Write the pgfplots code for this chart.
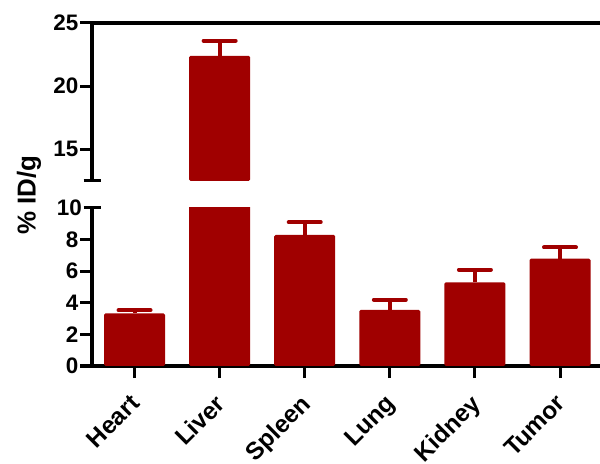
\documentclass[border=0pt]{standalone}
\usepackage{pgfplots}
\pgfplotsset{compat=1.18}
\usepackage{pgfplotstable}
\usepackage{fontspec}
\setmainfont{Liberation Sans}
\definecolor{barred}{HTML}{A00000}
\pgfplotstableread{
x y e
0 3.33 0.2
1 22.4 1.2
2 8.3 0.8
3 3.55 0.65
4 5.3 0.8
5 6.8 0.7
}\organdata
\pgfplotsset{
 common/.style={
  scale only axis, width=508bp, height=158bp,
  anchor=south west,
  xmin=-0.5, xmax=5.47,
  axis y line*=left,
  axis line style={line width=3.2bp, -},
  tick style={black, line width=3bp},
  major tick length=12bp,
  tick align=outside,
  ybar, bar width=61bp,
  tick label style={font=\fontsize{22.5}{24}\selectfont\bfseries},
  /pgf/number format/assume math mode=true,
  yticklabel style={inner sep=1.5bp},
  extra y tick style={tick align=center, major tick length=17bp},
 },
 barplot/.style={fill=barred, draw=none, rounded corners=1.5bp,
  error bars/.cd, y dir=plus, y explicit,
  error mark=|,
  error bar style={line width=4bp, barred, sharp corners},
  error mark options={line width=4bp, barred, mark size=16bp, line cap=round}},
}
\begin{document}
\begin{tikzpicture}
\useasboundingbox (0,0) rectangle (600bp,464bp);
\begin{axis}[common, at={(92bp,98bp)},
  axis x line*=bottom,
  ymin=0, ymax=10, ytick={0,2,4,6,8}, extra y ticks={10},
  xtick={0,...,5},
  xticklabels={Heart,Liver,Spleen,Lung,Kidney,Tumor},
  xticklabel style={rotate=45, anchor=north east, inner sep=0bp,
    font=\fontsize{24.5}{26}\selectfont\bfseries, xshift=-14.4bp, yshift=-6.7bp},
]
\addplot[restrict y to domain=-1:30, barplot] table[x=x, y=y, y error=e] {\organdata};
\end{axis}
\begin{axis}[common, at={(92bp,283bp)},
  axis x line*=top, xtick=\empty,
  ymin=12.5, ymax=25, ytick={15,20,25}, extra y ticks={12.5}, extra y tick labels={},
]
\addplot[restrict y to domain=12.5:30, barplot] table[x=x, y=y, y error=e] {\organdata};
\end{axis}
\node[rotate=90, font=\fontsize{26}{28}\selectfont\bfseries] at (29bp,269bp) {\% ID/g};
\end{tikzpicture}
\end{document}
